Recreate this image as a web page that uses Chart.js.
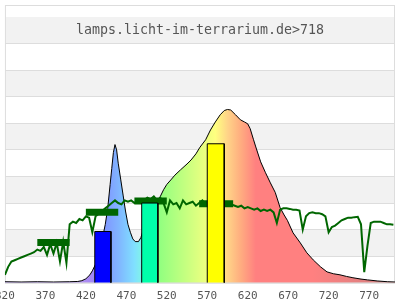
<!DOCTYPE html>
<html>
<head>
<meta charset="utf-8">
<script src="https://cdn.jsdelivr.net/npm/chart.js@4"></script>
<style>
  html, body { margin: 0; padding: 0; overflow: hidden; background: #fff; }
  #wrap { position: absolute; left: 0; top: 0; }
</style>
</head>
<body>
<div id="wrap"><canvas id="myChart" width="412" height="310"></canvas></div>
<script>
'use strict'

// ---- data ----
const titleText = 'lamps.licht-im-terrarium.de>718';
const xTicks = [320, 370, 420, 470, 520, 570, 620, 670, 720, 770];

// lamp spectrum (normalised)
const specNm = [320, 340, 360, 380, 400, 410, 415, 420, 425, 428, 432, 436, 440, 444, 447, 450, 452, 454, 456, 458,
  460, 463, 466, 469, 472, 475, 478, 481, 485, 488, 492, 496, 500, 504, 508, 512, 516, 520, 525, 530,
  537, 545, 550, 556, 561, 568, 574, 580, 586, 591, 595, 599, 605, 611, 616, 620, 623, 627, 630, 636,
  642, 648, 654, 660, 665, 669, 676, 685, 693, 701, 710, 718, 726, 734, 742, 750, 760, 768, 780, 793, 802];
const specVal = [0.004, 0.003, 0.004, 0.003, 0.004, 0.005, 0.008, 0.015, 0.03, 0.045, 0.07, 0.11, 0.16, 0.22, 0.28, 0.37, 0.43, 0.49, 0.52, 0.50,
  0.45, 0.39, 0.33, 0.27, 0.22, 0.19, 0.165, 0.155, 0.155, 0.17, 0.21, 0.24, 0.26, 0.285, 0.305, 0.325, 0.35, 0.37, 0.387, 0.405,
  0.425, 0.447, 0.462, 0.485, 0.51, 0.538, 0.575, 0.605, 0.632, 0.648, 0.652, 0.65, 0.632, 0.613, 0.605, 0.598, 0.58, 0.54, 0.511, 0.455,
  0.414, 0.376, 0.34, 0.283, 0.255, 0.235, 0.188, 0.15, 0.113, 0.086, 0.06, 0.041, 0.034, 0.03, 0.024, 0.019, 0.014, 0.011, 0.007, 0.004, 0.003];

// green reference curve
const greenNm = [320, 324, 328, 332, 336, 340, 344, 348, 352, 356, 360, 364, 368, 372, 376, 380, 384, 388, 392, 396,
  400, 404, 408, 412, 416, 420, 424, 428, 432, 436, 440, 444, 448, 452, 456, 460, 464, 468, 472, 476,
  480, 484, 488, 492, 496, 500, 504, 508, 512, 516, 520, 524, 528, 532, 536, 540, 544, 548, 552, 556,
  560, 564, 568, 572, 576, 580, 584, 588, 592, 596, 600, 604, 608, 612, 616, 620, 624, 628, 632, 636,
  640, 644, 648, 652, 656, 660, 664, 668, 672, 676, 680, 684, 688, 692, 696, 700, 704, 708, 712, 716,
  720, 724, 728, 732, 736, 740, 744, 748, 752, 756, 760, 764, 768, 772, 776, 780, 784, 788, 792, 796, 800];
const greenVal = [0.03, 0.06, 0.08, 0.085, 0.09, 0.095, 0.1, 0.105, 0.11, 0.115, 0.125, 0.12, 0.135, 0.105, 0.145, 0.11, 0.15, 0.08, 0.155, 0.075,
  0.22, 0.23, 0.225, 0.24, 0.235, 0.25, 0.245, 0.19, 0.25, 0.26, 0.27, 0.28, 0.29, 0.3, 0.31, 0.3, 0.295, 0.31, 0.305, 0.31,
  0.3, 0.31, 0.315, 0.31, 0.32, 0.315, 0.325, 0.31, 0.32, 0.3, 0.265, 0.31, 0.295, 0.3, 0.28, 0.31, 0.295, 0.3, 0.305, 0.29,
  0.3, 0.31, 0.295, 0.3, 0.3, 0.295, 0.305, 0.29, 0.3, 0.295, 0.295, 0.29, 0.285, 0.29, 0.28, 0.285, 0.28, 0.275, 0.28, 0.27,
  0.275, 0.27, 0.275, 0.265, 0.225, 0.275, 0.28, 0.28, 0.278, 0.275, 0.275, 0.272, 0.2, 0.25, 0.262, 0.265, 0.262, 0.262, 0.258, 0.25,
  0.19, 0.21, 0.215, 0.225, 0.235, 0.24, 0.245, 0.245, 0.247, 0.248, 0.22, 0.04, 0.14, 0.225, 0.23, 0.23, 0.23, 0.225, 0.22, 0.22, 0.218];

// band averages (thick dark green marks)
const bandFrom = [360, 420, 480, 560];
const bandTo = [400, 460, 520, 602];
const bandVal = [0.152, 0.265, 0.308, 0.297];

// bars
const barFrom = [431, 489, 570];
const barTo = [451, 509, 591];
const barVal = [0.193, 0.30, 0.523];
const barColors = ['#0000ff', '#00ffaa', '#ffff00'];

// fill colours along the spectrum
const gradNm = [320, 415, 425, 440, 460, 480, 495, 510, 540, 565, 580, 595, 610, 630, 700, 760, 802];
const gradColors = ['#b090f0', '#b090f0', '#a888f4', '#8090ff', '#80b4ff', '#80e0ff', '#80ffd8', '#90ff80', '#c0ff80', '#e8ff80',
  '#ffff80', '#ffd488', '#ffb080', '#ff8080', '#ff8080', '#e48080', '#cc8080'];

const xMin = 320, xMax = 802;
const yMax = 1.045;

function pts(xs, ys) {
  return xs.map((x, i) => ({ x: x, y: ys[i] }));
}

function spectrumFill(context) {
  const chart = context.chart;
  if (!chart.chartArea) return 'rgba(0,0,0,0)';
  const x = chart.scales.x;
  const g = chart.ctx.createLinearGradient(x.getPixelForValue(xMin), 0, x.getPixelForValue(xMax), 0);
  for (let i = 0; i < gradNm.length; i++) {
    g.addColorStop((gradNm[i] - xMin) / (xMax - xMin), gradColors[i]);
  }
  return g;
}

const bandsPlugin = {
  id: 'bands',
  beforeDraw(chart) {
    const { ctx, chartArea, scales } = chart;
    const y = scales.y;
    ctx.save();
    ctx.fillStyle = '#f2f2f2';
    for (let v = 1; v < 10; v += 2) {
      const top = y.getPixelForValue((v + 1) / 10);
      const bot = y.getPixelForValue(v / 10);
      ctx.fillRect(chartArea.left, top, chartArea.right - chartArea.left, bot - top);
    }
    ctx.restore();
  },
  beforeDatasetsDraw(chart) {
    const { ctx, chartArea, scales } = chart;
    ctx.save();
    ctx.strokeStyle = '#dddddd';
    ctx.lineWidth = 1;
    ctx.strokeRect(chartArea.left + 0.5, chartArea.top + 0.5, chartArea.right - chartArea.left - 1, chartArea.bottom - chartArea.top);
    ctx.fillStyle = '#555';
    ctx.font = '13.3px "DejaVu Sans Mono", monospace';
    ctx.textAlign = 'center';
    ctx.textBaseline = 'middle';
    ctx.fillText(titleText, (chartArea.left + chartArea.right) / 2, scales.y.getPixelForValue(0.95));
    ctx.restore();
  }
};

const datasets = [];
datasets.push({
  data: pts(specNm, specVal),
  borderColor: '#000',
  borderWidth: 1,
  backgroundColor: spectrumFill,
  fill: 'origin',
  pointRadius: 0,
  order: 10
});
datasets.push({
  data: pts(greenNm, greenVal),
  borderColor: '#006600',
  borderWidth: 2,
  fill: false,
  pointRadius: 0,
  order: 8
});
for (let i = 0; i < bandFrom.length; i++) {
  datasets.push({
    data: [{ x: bandFrom[i], y: bandVal[i] }, { x: bandTo[i], y: bandVal[i] }],
    borderColor: '#006600',
    borderWidth: 7,
    borderCapStyle: 'butt',
    fill: false,
    pointRadius: 0,
    order: 6
  });
}
for (let i = 0; i < barFrom.length; i++) {
  datasets.push({
    data: [{ x: barFrom[i], y: 0 }, { x: barFrom[i], y: barVal[i] }, { x: barTo[i], y: barVal[i] }, { x: barTo[i], y: 0 }],
    borderColor: '#000',
    borderWidth: 1,
    backgroundColor: barColors[i],
    fill: 'origin',
    pointRadius: 0,
    order: 2
  });
}

const canvas = document.getElementById('myChart');
const chart = new Chart(canvas.getContext('2d'), {
  type: 'line',
  data: { datasets: datasets },
  plugins: [bandsPlugin],
  options: {
    responsive: false,
    maintainAspectRatio: false,
    animation: false,
    events: [],
    layout: { padding: { top: 5, right: 5, bottom: 0, left: 0 } },
    plugins: { legend: { display: false }, tooltip: { enabled: false } },
    scales: {
      x: {
        type: 'linear',
        min: xMin,
        max: xMax,
        afterBuildTicks: (scale) => { scale.ticks = xTicks.map(v => ({ value: v })); },
        grid: { display: false, drawTicks: false },
        border: { display: false },
        ticks: {
          color: '#555',
          padding: 7,
          maxRotation: 0,
          autoSkip: false,
          font: { family: '"DejaVu Sans Mono", monospace', size: 11 }
        }
      },
      y: {
        min: 0,
        max: yMax,
        ticks: { display: false, stepSize: 0.1 },
        grid: { color: '#dddddd', drawTicks: false },
        border: { display: false }
      }
    }
  }
});

// size and shift the canvas so the plot area sits where the reference has it
for (let k = 0; k < 3; k++) {
  const d = Math.round(283 - chart.chartArea.bottom);
  if (d === 0) break;
  chart.resize(412, chart.height + d);
}
const shift = Math.round(chart.chartArea.left - 5);
canvas.style.marginLeft = (-shift) + 'px';
chart.options.layout.padding.right = 412 - shift - 395;
chart.update();
</script>
</body>
</html>
